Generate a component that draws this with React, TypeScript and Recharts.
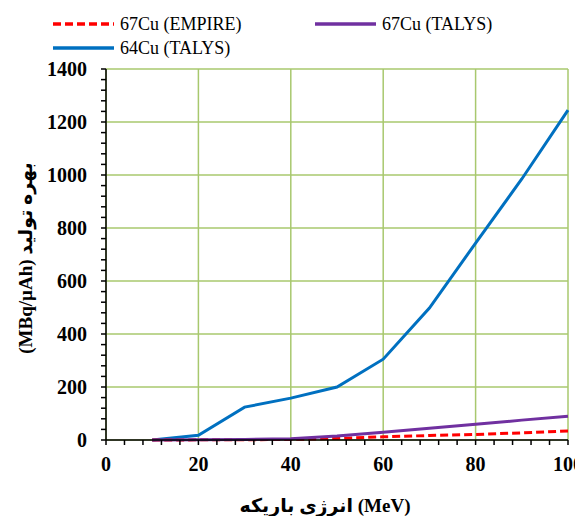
import React from 'react';
import { LineChart, Line, XAxis, YAxis, CartesianGrid } from 'recharts';

// beam energy (MeV)
const energy = [10, 20, 30, 40, 50, 60, 70, 80, 90, 100];
// production yield (MBq/µAh)
const cu67Empire = [0, 0.5, 1, 2, 6, 12, 17, 21, 27, 34];
const cu67Talys = [0, 0.5, 2, 5, 15, 29, 44, 59, 75, 90];
const cu64Talys = [0, 18, 124, 158, 200, 305, 498, 743, 985, 1245];

const xMajor = [0, 20, 40, 60, 80, 100];
const yMajor = [0, 200, 400, 600, 800, 1000, 1200, 1400];
const xMinorStep = 4;
const yMinorStep = 40;

const xTicks = Array.from({ length: 100 / xMinorStep + 1 }, (_, i) => i * xMinorStep);
const yTicks = Array.from({ length: 1400 / yMinorStep + 1 }, (_, i) => i * yMinorStep);

const data = energy.map((e, i) => ({
  e,
  empire67: cu67Empire[i],
  talys67: cu67Talys[i],
  talys64: cu64Talys[i],
}));

const legendItems = [
  { name: '67Cu (EMPIRE)', color: '#FF0000', dash: '8 4', left: 44, top: 16 },
  { name: '67Cu (TALYS)', color: '#7030A0', dash: undefined, left: 306, top: 16 },
  { name: '64Cu (TALYS)', color: '#0070C0', dash: undefined, left: 44, top: 40 },
];

const serif = '"Liberation Serif", "Times New Roman", "DejaVu Sans", serif';
const gridColor = '#a8c86e';

const XTick = (props: any) => {
  const v = props.payload.value;
  if (!xMajor.includes(v)) return <g />;
  return (
    <text x={props.x} y={props.y} dy="0.71em" textAnchor="middle"
      fontFamily={serif} fontWeight="bold" fontSize={20} fill="#000">{v}</text>
  );
};

const YTick = (props: any) => {
  const v = props.payload.value;
  if (!yMajor.includes(v)) return <g />;
  return (
    <text x={props.x} y={props.y} dy="0.35em" textAnchor="end"
      fontFamily={serif} fontWeight="bold" fontSize={20} fill="#000">{v}</text>
  );
};

export default function App() {
  return (
    <div style={{ position: 'relative', width: 575, height: 508 }}>
      <LineChart width={575} height={508} data={data}
        margin={{ top: 61, right: 15, left: 0, bottom: 0 }}>
        <CartesianGrid stroke={gridColor} strokeWidth={1.5}
          horizontalValues={yMajor} verticalValues={xMajor} />
        <XAxis dataKey="e" type="number" domain={[0, 100]} ticks={xTicks}
          interval={0} height={76} tickSize={5} tickMargin={12}
          stroke="#000" strokeWidth={1.5} tick={<XTick />}
          label={{
            content: () => (
              <text x={317} y={497} textAnchor="middle" dominantBaseline="central"
                fontFamily={serif} fontWeight="bold" fontSize={19} fill="#000">
                {'انرژی باریکه (MeV)'}
              </text>
            ),
          }} />
        <YAxis type="number" domain={[0, 1400]} ticks={yTicks} interval={0}
          width={98} tickSize={5} tickMargin={14}
          stroke="#000" strokeWidth={1.5} tick={<YTick />}
          label={{
            content: () => (
              <text x={17} y={250} textAnchor="middle" dominantBaseline="central"
                transform="rotate(-90 17 250)"
                fontFamily={serif} fontWeight="bold" fontSize={19} fill="#000">
                {'(MBq/µAh) بهره تولید'}
              </text>
            ),
          }} />
        <Line type="linear" dataKey="talys64" stroke="#0070C0" strokeWidth={3}
          dot={false} isAnimationActive={false} />
        <Line type="linear" dataKey="empire67" stroke="#FF0000" strokeWidth={3}
          strokeDasharray="8 4" dot={false} isAnimationActive={false} />
        <Line type="linear" dataKey="talys67" stroke="#7030A0" strokeWidth={3}
          dot={false} isAnimationActive={false} />
      </LineChart>

      {/* legend */}
      {legendItems.map((it) => (
        <div key={it.name} style={{
          position: 'absolute', left: it.left, top: it.top - 11, height: 22,
          display: 'flex', alignItems: 'center', fontFamily: serif, fontSize: 18,
          whiteSpace: 'nowrap',
        }}>
          <svg width={63} height={22} style={{ display: 'block' }}>
            <line x1={1} y1={11} x2={62} y2={11} stroke={it.color} strokeWidth={3.5}
              strokeDasharray={it.dash} />
          </svg>
          <span style={{ marginLeft: 5 }}>{it.name}</span>
        </div>
      ))}
    </div>
  );
}
